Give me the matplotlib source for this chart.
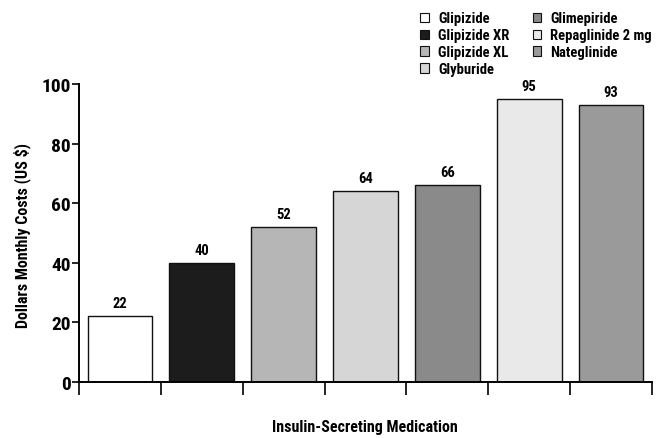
import matplotlib
matplotlib.use("Agg")
import matplotlib.pyplot as plt
from matplotlib.patches import Patch

plt.rcParams['font.family'] = ['Roboto Condensed', 'Asap Condensed', 'DejaVu Sans']
plt.rcParams['font.weight'] = 'bold'

medications = ["Glipizide", "Glipizide XR", "Glipizide XL", "Glyburide",
               "Glimepiride", "Repaglinide 2 mg", "Nateglinide"]
monthly_cost = [22, 40, 52, 64, 66, 95, 93]
bar_colors = ["#ffffff", "#1c1c1c", "#b6b6b6", "#d6d6d6",
              "#8a8a8a", "#e9e9e9", "#9a9a9a"]

fig = plt.figure(figsize=(6.67, 4.39), dpi=100)
ax = fig.add_axes([0.1184, 0.1276, 0.9775 - 0.1184, 0.8064 - 0.1276])

positions = [i + 0.5 for i in range(len(medications))]
ax.bar(positions, monthly_cost, width=0.79, color=bar_colors,
       edgecolor="#111111", linewidth=1.0, zorder=2)

for x, v in zip(positions, monthly_cost):
    ax.text(x, v + 2.0, f"{v}", ha="center", va="bottom",
            fontsize=10.5, fontweight="bold")

ax.set_xlim(0, len(medications))
ax.set_ylim(0, 100)
ax.set_yticks([0, 20, 40, 60, 80, 100])
ax.tick_params(axis="y", labelsize=14, length=5, width=1.2, pad=1)
ax.set_xticks(range(len(medications) + 1))
ax.set_xticklabels([])
ax.tick_params(axis="x", direction="out", length=9, width=1.2)

for side in ("top", "right"):
    ax.spines[side].set_visible(False)
for side in ("left", "bottom"):
    ax.spines[side].set_linewidth(1.4)
ax.spines["left"].set_bounds(0, 100)

fig.text(22 / 667, 1 - 235 / 439, "Dollars Monthly Costs (US $)", rotation=90,
         ha="center", va="center", fontsize=11.5, fontweight="bold")
fig.text(365 / 667, 1 - 428 / 439, "Insulin-Secreting Medication",
         ha="center", va="center", fontsize=11.5, fontweight="bold")

handles = [Patch(facecolor=c, edgecolor="#111111", linewidth=0.8, label=m)
           for m, c in zip(medications, bar_colors)]
fig.legend(handles=handles, ncol=2, loc="upper left",
           bbox_to_anchor=(0.615, 0.995), frameon=False, fontsize=10.5,
           handlelength=0.6, handleheight=0.6, handletextpad=0.6,
           columnspacing=1.6, labelspacing=0.2, borderaxespad=0.3)

fig.savefig("out.png", dpi=100)
